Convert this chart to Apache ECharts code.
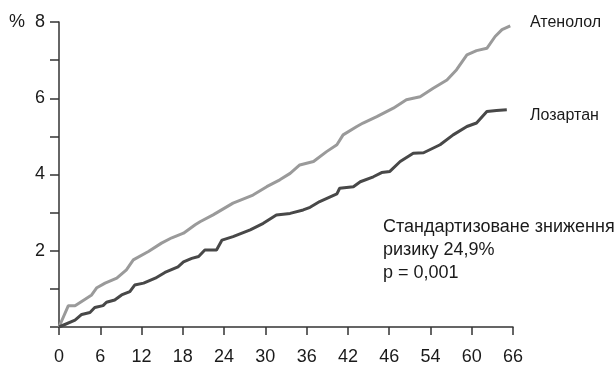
<!DOCTYPE html>
<html>
<head>
<meta charset="utf-8">
<script src="https://cdn.jsdelivr.net/npm/echarts@6/dist/echarts.min.js"></script>
<style>
  html, body { margin: 0; padding: 0; background: #fff; }
  #chart { width: 616px; height: 366px; }
</style>
</head>
<body>
<div id="chart"></div>
<script>
// Months of follow-up and cumulative event rate (%) for each arm
const atenololMonths = [0, 1.36, 2.33, 3.8, 4.75, 5.5, 6.7, 8.4, 9.8, 10.8, 13, 14.9, 16.4, 18.1, 19.8, 20.5, 22.4, 25.3, 28.2, 30.2, 32.1, 33.6, 35, 37, 38.9, 40.4, 41.3, 43.3, 44.2, 46.2, 48.6, 50.5, 52.5, 54.4, 56.4, 57.8, 59.3, 60.7, 62.2, 63.4, 64.4, 65.6];
const atenololRate   = [0, 0.56, 0.56, 0.73, 0.84, 1.03, 1.15, 1.28, 1.5, 1.76, 1.98, 2.2, 2.34, 2.46, 2.68, 2.76, 2.94, 3.25, 3.46, 3.68, 3.86, 4.03, 4.25, 4.34, 4.6, 4.78, 5.04, 5.26, 5.35, 5.52, 5.74, 5.96, 6.04, 6.26, 6.48, 6.75, 7.14, 7.25, 7.31, 7.62, 7.8, 7.9];

const losartanMonths = [0, 2.33, 3.3, 4.5, 5.2, 6.4, 6.9, 8.1, 9.1, 10.3, 11, 12.3, 14, 15.4, 17.3, 18.1, 19.3, 20.3, 21.2, 22.9, 23.7, 25.3, 27.8, 29.7, 31.6, 33.6, 35.5, 36.5, 37.9, 40.4, 40.8, 42.8, 43.8, 45.7, 46.9, 48.1, 49.6, 51.5, 53, 55.4, 57.3, 59.3, 60.7, 62.2, 63.6, 65.1];
const losartanRate   = [0, 0.18, 0.33, 0.38, 0.51, 0.56, 0.65, 0.71, 0.84, 0.93, 1.1, 1.15, 1.28, 1.43, 1.58, 1.71, 1.8, 1.85, 2.02, 2.02, 2.28, 2.37, 2.55, 2.72, 2.94, 2.98, 3.07, 3.14, 3.29, 3.49, 3.64, 3.68, 3.81, 3.94, 4.05, 4.08, 4.34, 4.56, 4.57, 4.78, 5.04, 5.26, 5.35, 5.65, 5.68, 5.7];

// Tick labels along the time axis (every 6 months)
const xTickLabels = ['0', '6', '12', '18', '24', '30', '36', '42', '46', '54', '60', '66'];
const yTickLabels = ['', '', '2', '', '4', '', '6', '', '8'];

const seriesNames = ['Атенолол', 'Лозартан'];
const noteLines = ['Стандартизоване зниження', 'ризику 24,9%', 'p = 0,001'];

const zip = (xs, ys) => xs.map((x, i) => [x, ys[i]]);
const font = '"Liberation Sans", Arial, sans-serif';
const axisColor = '#333';
const textColor = '#1a1a1a';

const chart = echarts.init(document.getElementById('chart'));
chart.setOption({
  animation: false,
  backgroundColor: '#fff',
  grid: { left: 59, right: 103, top: 22, bottom: 39 },
  xAxis: {
    type: 'value', min: 0, max: 66, interval: 6,
    axisLine: { lineStyle: { color: axisColor, width: 1.5 } },
    axisTick: { show: true, length: 8, lineStyle: { color: axisColor, width: 1.5 } },
    splitLine: { show: false },
    axisLabel: {
      margin: 21, color: textColor, fontSize: 18, fontFamily: font,
      formatter: v => xTickLabels[Math.round(v / 6)]
    }
  },
  yAxis: {
    type: 'value', min: 0, max: 8, interval: 1,
    axisLine: { show: true, lineStyle: { color: axisColor, width: 1.5 } },
    axisTick: { show: true, length: 9, lineStyle: { color: axisColor, width: 1.5 } },
    splitLine: { show: false },
    axisLabel: {
      margin: 14, color: textColor, fontSize: 18, fontFamily: font,
      formatter: v => yTickLabels[Math.round(v)]
    }
  },
  series: [
    {
      name: seriesNames[0], type: 'line', showSymbol: false,
      data: zip(atenololMonths, atenololRate),
      lineStyle: { color: '#9a9a9a', width: 3 }, z: 2
    },
    {
      name: seriesNames[1], type: 'line', showSymbol: false,
      data: zip(losartanMonths, losartanRate),
      lineStyle: { color: '#484848', width: 3 }, z: 3
    }
  ],
  graphic: [
    { type: 'text', left: 9, top: 13, style: { text: '%', font: '18px ' + font, fill: textColor } },
    { type: 'text', left: 530, top: 15, style: { text: seriesNames[0], font: '16px ' + font, fill: textColor } },
    { type: 'text', left: 530, top: 108, style: { text: seriesNames[1], font: '16px ' + font, fill: textColor } },
    { type: 'text', left: 383, top: 216, style: { text: noteLines.join('\n'), font: '18px ' + font, lineHeight: 23, fill: textColor } }
  ]
});
</script>
</body>
</html>
